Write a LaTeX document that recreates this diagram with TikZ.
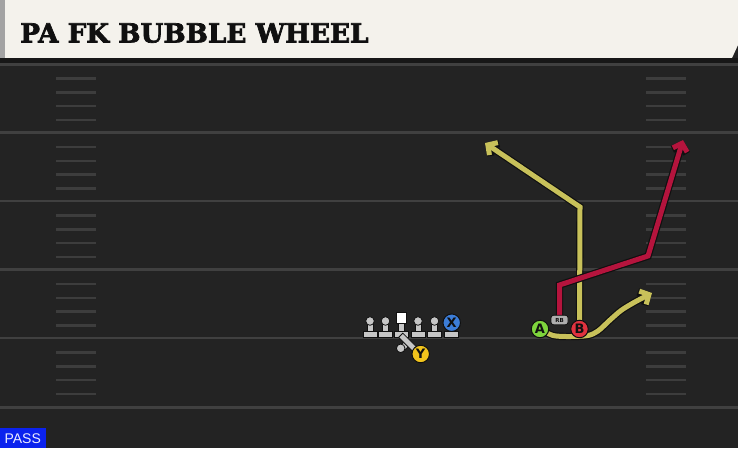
\documentclass[tikz,border=0pt]{standalone}
\usepackage{fontspec}
\setmainfont{DejaVu Serif}
\newfontfamily\titlefont[BoldFeatures={FakeBold=2.6}]{DejaVu Serif}
\newfontfamily\lblfont{DejaVu Sans}
\newfontfamily\passfont{Liberation Sans}
\usetikzlibrary{arrows.meta}
\definecolor{fieldbg}{HTML}{232323}
\definecolor{titlebg}{HTML}{F4F2EC}
\definecolor{stripc}{HTML}{A3A3A3}
\definecolor{bandc}{HTML}{171717}
\definecolor{linec}{HTML}{404040}
\definecolor{hashc}{HTML}{3D3D3D}
\definecolor{olivec}{HTML}{C8C15A}
\definecolor{redc}{HTML}{B5143D}
\definecolor{greenc}{HTML}{7ED43C}
\definecolor{bredc}{HTML}{E0323F}
\definecolor{bluec}{HTML}{3C7DD8}
\definecolor{yellowc}{HTML}{F2C41C}
\definecolor{lmc}{HTML}{C6C6C6}
\definecolor{passc}{HTML}{0B22EE}
\definecolor{outc}{HTML}{101010}
\tikzset{
  yardline/.style={draw=linec, line width=2.2pt},
  hashmark/.style={draw=hashc, line width=2.2pt},
  route/.style={line width=5pt, line join=miter, line cap=butt,
     preaction={draw=outc, line width=7.4pt}},
  routetip/.style={-{Straight Barb[length=7pt,width=15pt]}},
  player/.style={circle, draw=outc, line width=1pt, minimum size=17.5pt, inner sep=0pt,
     font=\lblfont\bfseries\fontsize{13}{13}\selectfont, text=outc},
  lmpart/.style={fill=lmc, draw=outc, line width=0.8pt},
  rbbox/.style={rounded corners=2.5pt, fill=lmc!88!black, draw=outc, line width=0.8pt,
     minimum width=17pt, minimum height=9.5pt, inner sep=0pt,
     font=\lblfont\bfseries\fontsize{5.5}{5.5}\selectfont, text=outc}
}
\begin{document}
\begin{tikzpicture}[x=1pt,y=-1pt]
\useasboundingbox (0,0) rectangle (738,448);
\fill[fieldbg] (0,0) rectangle (738,448);
% title bar
\fill[titlebg] (0,0) -- (738,0) -- (738,45) -- (732,58) -- (0,58) -- cycle;
\fill[stripc] (0,0) rectangle (4.5,58);
\fill[bandc] (0,58) rectangle (738,63.5);
\node[anchor=base west, inner sep=0pt, text=outc] (title) at (20,42.5)
  {\titlefont\fontsize{26.3}{28}\selectfont\bfseries PA FK BUBBLE WHEEL};
% yard lines
\draw[yardline] (0,64.5) -- (738,64.5);
\foreach \y in {132.5,201,269.5,338,407.5} \draw[yardline] (0,\y) -- (738,\y);
% hash marks
\foreach \b in {64,132.5,201,269.5,338} {
  \foreach \o in {14.5,28.5,42,56} {
    \draw[hashmark] (56,\b+\o) -- (96,\b+\o);
    \draw[hashmark] (646,\b+\o) -- (686,\b+\o);
  }
}
% positions
\coordinate (pA) at (540,329);
\coordinate (pB) at (579.5,329);
\coordinate (pRB) at (559.5,320);
\coordinate (pX) at (451.7,322.7);
\coordinate (pY) at (420.7,354);
\coordinate (w1) at (580,207);
\coordinate (t1) at (485,143);
\coordinate (r1) at (559.5,285);
\coordinate (r2) at (648,256);
\coordinate (t2) at (683,140);
\coordinate (t3) at (652,293);
% routes
\draw[route, draw=olivec, routetip] (pB) -- (w1) -- (t1);
\draw[route, draw=redc, routetip] (pRB) -- (r1) -- (r2) -- (t2);
\draw[route, draw=olivec, routetip] plot[smooth, tension=0.5] coordinates
  {(540,329) (553,335.5) (570,336.5) (588,335.5) (598,331) (610,320) (621,310.5) (634,302.5) (t3)};
% linemen
\foreach \x in {370,385.5,418,434.5} {
  \filldraw[lmpart] (\x-7,331.5) rectangle (\x+7,337);
  \filldraw[lmpart] (\x-3,323) rectangle (\x+3,331.5);
  \filldraw[lmpart] (\x,321) circle (4.3pt);
}
% center
\filldraw[lmpart] (401.5-7,331.5) rectangle (401.5+7,337);
\filldraw[lmpart] (401.5-3,322) rectangle (401.5+3,331.5);
\filldraw[fill=white, draw=outc, line width=0.8pt] (396.5,312.5) rectangle (406.5,323);
% X stand
\filldraw[lmpart] (444.7,331.5) rectangle (458.7,337);
\filldraw[lmpart] (448.7,327) rectangle (454.7,331.5);
% TE
\filldraw[lmpart] (399.2,346.9) -- (406.2,339.9) -- (410.6,344.3) -- (403.6,351.3) -- cycle;
\filldraw[lmpart] (402.8,333.2) -- (416.8,347.2) -- (412.6,351.4) -- (398.6,337.4) -- cycle;
\filldraw[lmpart] (400.7,348.3) circle (4.3pt);
% players
\node[player, fill=bluec] (X) at (pX) {X};
\node[player, fill=yellowc] (Y) at (pY) {Y};
\node[player, fill=greenc] (A) at (pA) {A};
\node[player, fill=bredc] (B) at (pB) {B};
\node[rbbox] (RB) at (pRB) {RB};
% pass tag
\fill[passc] (0,427.5) rectangle (45.5,448);
\node[anchor=base, inner sep=0pt, text=white!92!blue] (pass) at (22.7,443)
  {\passfont\fontsize{14}{14}\selectfont PASS};
\end{tikzpicture}
\end{document}
